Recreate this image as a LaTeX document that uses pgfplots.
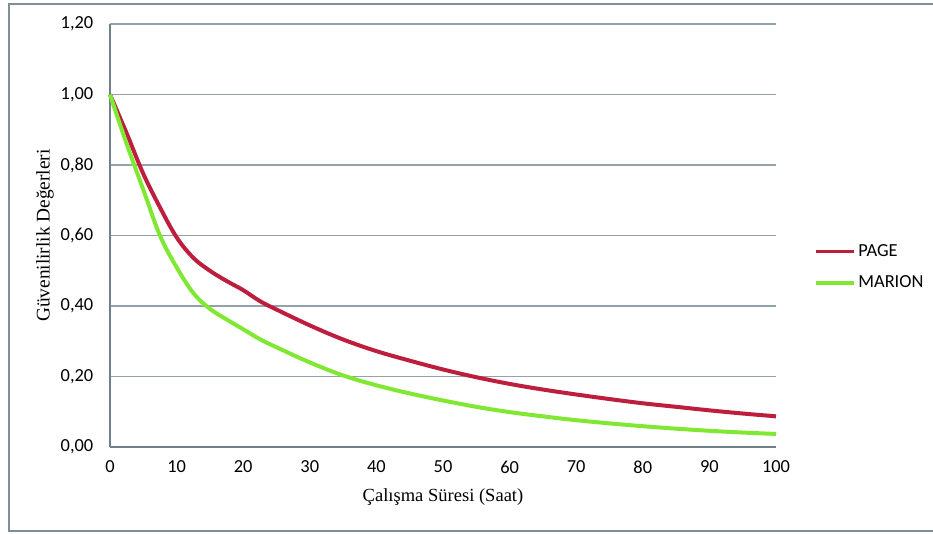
\documentclass[border=0pt]{standalone}
\usepackage{fontspec}
\setmainfont{Liberation Serif}
\newfontfamily\calibri{Carlito}
\usepackage{pgfplots}
\pgfplotsset{compat=1.18}
\definecolor{pagec}{RGB}{190,30,62}
\definecolor{marionc}{RGB}{128,232,50}
\definecolor{gridc}{RGB}{148,163,171}
\definecolor{axisc}{RGB}{110,128,136}
\definecolor{framec}{RGB}{127,143,150}

\pgfplotstableread{
t v
0 1.00
2.5 0.89
5 0.775
7.5 0.680
10 0.595
12.5 0.537
15 0.500
17.5 0.471
20 0.445
22.5 0.414
25 0.390
30 0.345
35 0.305
40 0.272
45 0.245
50 0.220
55 0.198
60 0.179
65 0.163
70 0.149
75 0.136
80 0.124
85 0.114
90 0.104
95 0.095
100 0.087
}\pagedata

\pgfplotstableread{
t v
0 1.00
2.5 0.86
5 0.73
7.5 0.60
10 0.51
12.5 0.437
15 0.392
17.5 0.362
20 0.334
22.5 0.306
25 0.283
30 0.240
35 0.203
40 0.175
45 0.152
50 0.132
55 0.114
60 0.099
65 0.087
70 0.076
75 0.067
80 0.059
85 0.052
90 0.046
95 0.041
100 0.037
}\mariondata

\begin{document}
\begin{tikzpicture}[x=0.75pt,y=0.75pt]
\useasboundingbox (-110,-86) rectangle (823,447);
\draw[framec, line width=1pt] (823,443) -- (-101,443) -- (-101,-84) -- (823,-84);
\begin{axis}[
    at={(0,0)}, anchor=south west,
    scale only axis,
    width=499.5pt, height=317.25pt,
    xmin=0, xmax=100, ymin=0, ymax=1.2,
    xtick={0,10,...,100},
    ytick={0,0.2,0.4,0.6,0.8,1.0,1.2},
    axis x line=bottom, axis y line=left,
    axis line style={-, color=axisc, line width=1.5pt},
    major tick length=0pt,
    ymajorgrids,
    grid style={color=gridc, line width=1.4pt},
    clip=false,
    ticklabel style={font=\calibri\fontsize{13.8}{15}\selectfont},
    /pgf/number format/assume math mode=true,
    yticklabel style={/pgf/number format/fixed, /pgf/number format/fixed zerofill,
        /pgf/number format/precision=2, /pgf/number format/use comma,
        anchor=east, xshift=-9pt},
    xticklabel style={anchor=north, yshift=-7pt},
    xlabel={Çalışma Süresi (Saat)},
    ylabel={Güvenilirlik Değerleri},
    xlabel style={at={(axis description cs:0.5,-0.118)}, anchor=center, font=\fontsize{13.9}{16}\selectfont},
    ylabel style={at={(axis description cs:-0.0976,0.5)}, anchor=center, font=\fontsize{14.5}{16}\selectfont},
    legend style={at={(axis description cs:1.057,0.425)}, anchor=west, draw=none, fill=none,
        font=\calibri\fontsize{13.8}{15}\selectfont, row sep=9pt, inner sep=0pt},
    legend cell align=left,
    legend image code/.code={\draw[#1, line width=2.6pt] (0pt,0pt) -- (28.5pt,0pt);},
]
\addplot[pagec, line width=3pt, smooth, tension=0.6] table[x=t, y=v] {\pagedata};
\addlegendentry{PAGE}
\addplot[marionc, line width=3pt, smooth, tension=0.6] table[x=t, y=v] {\mariondata};
\addlegendentry{MARION}
\end{axis}
\end{tikzpicture}
\end{document}
